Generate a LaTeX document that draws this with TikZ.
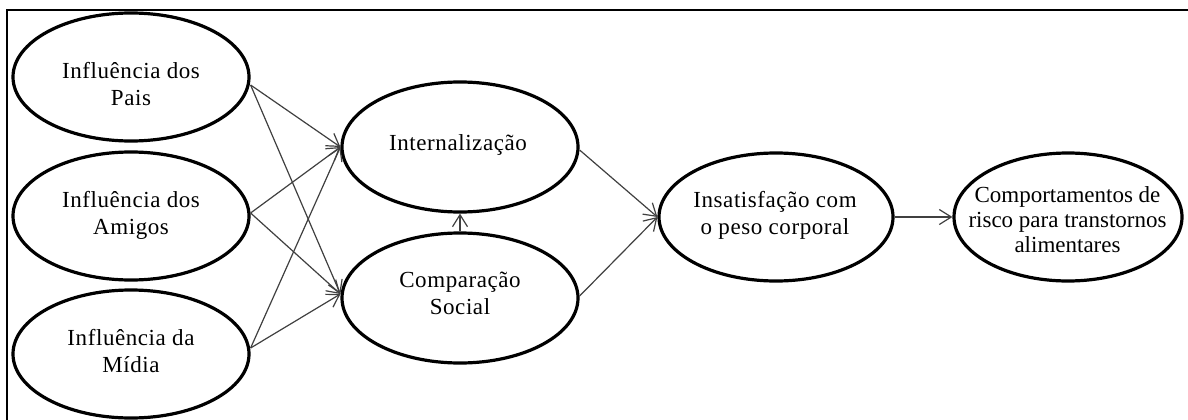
\documentclass[tikz,border=0pt]{standalone}
\usepackage{fontspec}
\setmainfont{Liberation Serif}[LetterSpace=2.5]
\usetikzlibrary{arrows.meta,shapes.geometric}
\begin{document}
\begin{tikzpicture}[x=1pt,y=-1pt,
  ell/.style={draw=black,line width=3.2pt,ellipse,inner sep=0pt,minimum width=236pt,minimum height=128pt},
  txt/.style={align=center,inner sep=0pt,font=\fontsize{23}{27}\selectfont},
  conn/.style={draw=black!75,line width=1.2pt,-{Straight Barb[length=12pt,width=15pt,line width=1.2pt]}},
  frame/.style={draw=black,line width=2.6pt}
]
\useasboundingbox (0,0) rectangle (1188,420);
\fill[white] (0,0) rectangle (1188,420);
\coordinate (F1) at (7,420);
\coordinate (F2) at (7,10);
\coordinate (F3) at (1190,10);
\draw[frame] (F1) -- (F2) -- (F3);

% ellipses
\node[ell] (P) at (131,77) {};
\node[ell] (A) at (131,216) {};
\node[ell] (M) at (131,354) {};
\node[ell,minimum height=130pt] (I) at (460,147) {};
\node[ell,minimum height=130pt] (C) at (460,298) {};
\node[ell,minimum width=234pt] (S) at (776,217) {};
\node[ell,minimum width=228pt] (R) at (1068,217) {};

% texts
\node[txt] (Pt) at (131,84.5) {Influência dos\\Pais};
\node[txt] (At) at (131,215.5) {Influência dos\\Amigos};
\node[txt] (Mt) at (131,351.5) {Influência da\\Mídia};
\node[txt] (It) at (458,145) {Internalização};
\node[txt] (Ct) at (460,293.5) {Comparação\\Social};
\node[txt] (St) at (775,215) {Insatisfação com\\o peso corporal};
\node[txt,font=\fontsize{23}{25}\selectfont\addfontfeatures{LetterSpace=0}] (Rt) at (1067.5,219.5) {Comportamentos de\\risco para transtornos\\alimentares};

% connectors
\draw[conn] ([yshift=-8pt]P.east) -- (I.west);
\draw[conn] ([yshift=-8pt]P.east) -- ([yshift=4pt]C.west);
\draw[conn] ([yshift=3pt]A.east) -- (I.west);
\draw[conn] ([yshift=3pt]A.east) -- ([yshift=4pt]C.west);
\draw[conn] ([yshift=6pt]M.east) -- (I.west);
\draw[conn] ([yshift=6pt]M.east) -- ([yshift=4pt]C.west);
\draw[conn] (C.north) -- (I.south);
\draw[conn] ([yshift=-3pt]I.east) -- (S.west);
\draw[conn] ([yshift=2pt]C.east) -- (S.west);
\draw[conn] (S.east) -- (R.west);
\end{tikzpicture}
\end{document}
